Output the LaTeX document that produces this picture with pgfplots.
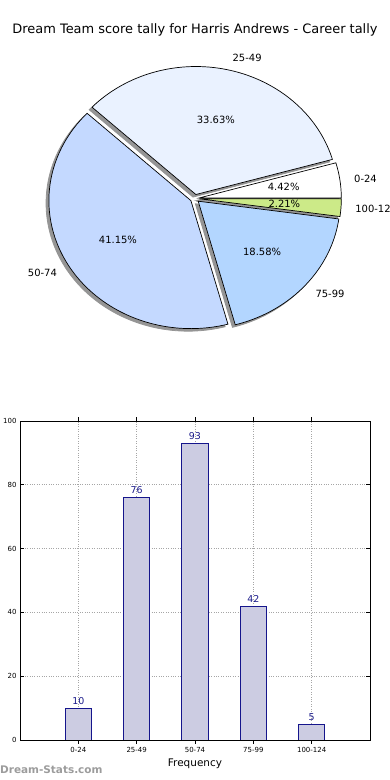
\documentclass[border=0pt]{standalone}
\usepackage{pgfplots}
\pgfplotsset{compat=1.18}
\usepackage{pgfplotstable}
\usepackage{fontspec}
\setmainfont{DejaVu Sans}
\definecolor{cA}{HTML}{FFFFFF}
\definecolor{cB}{HTML}{EAF2FF}
\definecolor{cC}{HTML}{C4D9FF}
\definecolor{cD}{HTML}{B3D6FF}
\definecolor{cE}{HTML}{CCEA88}
\definecolor{shadowc}{HTML}{959595}
\definecolor{barfill}{HTML}{CCCCE2}
\definecolor{baredge}{HTML}{15158C}
\definecolor{navyc}{HTML}{1A1A8A}
\definecolor{wmark}{HTML}{9C9C9C}

\pgfplotstableread{
x label v
0 0-24 10
1 25-49 76
2 50-74 93
3 75-99 42
4 100-124 5
}\freqdata

% pie values (same data)
\def\vA{10}\def\vB{76}\def\vC{93}\def\vD{42}\def\vE{5}
\pgfmathsetmacro\tot{\vA+\vB+\vC+\vD+\vE}
\pgfmathsetmacro\aA{0}
\pgfmathsetmacro\aB{\aA+360*(\vA/\tot)}
\pgfmathsetmacro\aC{\aB+360*(\vB/\tot)}
\pgfmathsetmacro\aD{\aC+360*(\vC/\tot)}
\pgfmathsetmacro\aE{\aD+360*(\vD/\tot)}
\pgfmathsetmacro\aF{360}
\def\ex{0.032}

\tikzset{pielab/.style={font=\fontsize{10}{12}\selectfont, inner sep=0pt}}

\newcommand\pieshadow[2]{%
  \pgfmathsetmacro\PSa{#1}\pgfmathsetmacro\PSb{#2}%
  \pgfmathsetmacro\PSm{(\PSa+\PSb)/2}%
  \pgfmathsetmacro\PSx{\ex*cos(\PSm)-0.02}%
  \pgfmathsetmacro\PSy{\ex*sin(\PSm)-0.02}%
  \edef\PSdo{\noexpand\addplot[draw=shadowc,line width=0.8bp,fill=shadowc,domain=\PSa:\PSb,samples=90] ({\PSx+cos(x)},{\PSy+sin(x)}) -- (\PSx,\PSy) -- cycle;}%
  \PSdo}
\newcommand\pieslice[3]{%
  \pgfmathsetmacro\PSa{#1}\pgfmathsetmacro\PSb{#2}%
  \pgfmathsetmacro\PSm{(\PSa+\PSb)/2}%
  \pgfmathsetmacro\PSx{\ex*cos(\PSm)}%
  \pgfmathsetmacro\PSy{\ex*sin(\PSm)}%
  \edef\PSdo{\noexpand\addplot[draw=black,line width=0.7bp,fill=#3,domain=\PSa:\PSb,samples=90] ({\PSx+cos(x)},{\PSy+sin(x)}) -- (\PSx,\PSy) -- cycle;}%
  \PSdo}
\newcommand\pielabels[4]{%
  \pgfmathsetmacro\PSa{#1}\pgfmathsetmacro\PSb{#2}%
  \pgfmathsetmacro\PSm{(\PSa+\PSb)/2}%
  \pgfmathsetmacro\PSx{\ex*cos(\PSm)}%
  \pgfmathsetmacro\PSy{\ex*sin(\PSm)}%
  \pgfmathsetmacro\PLx{\PSx+1.1*cos(\PSm)}%
  \pgfmathsetmacro\PLy{\PSy+1.1*sin(\PSm)}%
  \pgfmathsetmacro\PPx{\PSx+0.6*cos(\PSm)}%
  \pgfmathsetmacro\PPy{\PSy+0.6*sin(\PSm)}%
  \ifdim\PLx pt>0pt \def\PSanch{west}\else\def\PSanch{east}\fi
  \edef\PSdo{\noexpand\node[pielab,anchor=\PSanch] at (axis cs:\PLx,\PLy) {#3};
    \noexpand\node[pielab] at (axis cs:\PPx,\PPy) {#4};}%
  \PSdo}

\begin{document}
\begin{tikzpicture}
\useasboundingbox (0,0) rectangle (390bp,780bp);
\node[font=\fontsize{13}{15}\selectfont] at (195bp,750bp) {Dream Team score tally for Harris Andrews - Career tally};

% pie
\begin{axis}[at={(0bp,420bp)}, anchor=south west, scale only axis,
  width=390bp, height=320bp, hide axis, clip=false,
  xmin=-1.3718, xmax=1.3746, ymin=-1.2617, ymax=1.2383]
\pieshadow{\aA}{\aB}
\pieshadow{\aB}{\aC}
\pieshadow{\aC}{\aD}
\pieshadow{\aD}{\aE}
\pieshadow{\aE}{\aF}
\pieslice{\aA}{\aB}{cA}
\pieslice{\aB}{\aC}{cB}
\pieslice{\aC}{\aD}{cC}
\pieslice{\aD}{\aE}{cD}
\pieslice{\aE}{\aF}{cE}
\pielabels{\aA}{\aB}{0-24}{4.42\%}
\pielabels{\aB}{\aC}{25-49}{33.63\%}
\pielabels{\aC}{\aD}{50-74}{41.15\%}
\pielabels{\aD}{\aE}{75-99}{18.58\%}
\pielabels{\aE}{\aF}{100-124}{2.21\%}
\end{axis}

% bars
\begin{axis}[at={(20bp,40bp)}, anchor=south west, scale only axis,
  width=350bp, height=319bp,
  xmin=-1, xmax=5, ymin=0, ymax=100,
  xtick={0,1,2,3,4}, xticklabels={0-24,25-49,50-74,75-99,100-124},
  ytick={0,20,40,60,80,100},
  tick align=inside, xtick pos=both, ytick pos=both, major tick length=3.5bp,
  grid=major, major grid style={dotted, gray!70, line width=0.6bp},
  axis line style={line width=0.8bp},
  tick style={black, line width=0.6bp},
  ticklabel style={font=\fontsize{7}{8}\selectfont},
  /pgf/number format/assume math mode=true,
  xlabel={Frequency}, xlabel style={font=\fontsize{10.5}{12}\selectfont},
  ybar, bar width=0.45,
  nodes near coords,
  nodes near coords style={font=\fontsize{9.5}{10}\selectfont, text=navyc},
]
\addplot[fill=barfill, draw=baredge, line width=0.8bp] table[x=x, y=v] {\freqdata};
\end{axis}

\node[anchor=west, font=\bfseries\fontsize{10.5}{12}\selectfont, text=wmark, inner sep=0pt] at (0bp,10bp) {Dream-Stats.com};
\end{tikzpicture}
\end{document}
